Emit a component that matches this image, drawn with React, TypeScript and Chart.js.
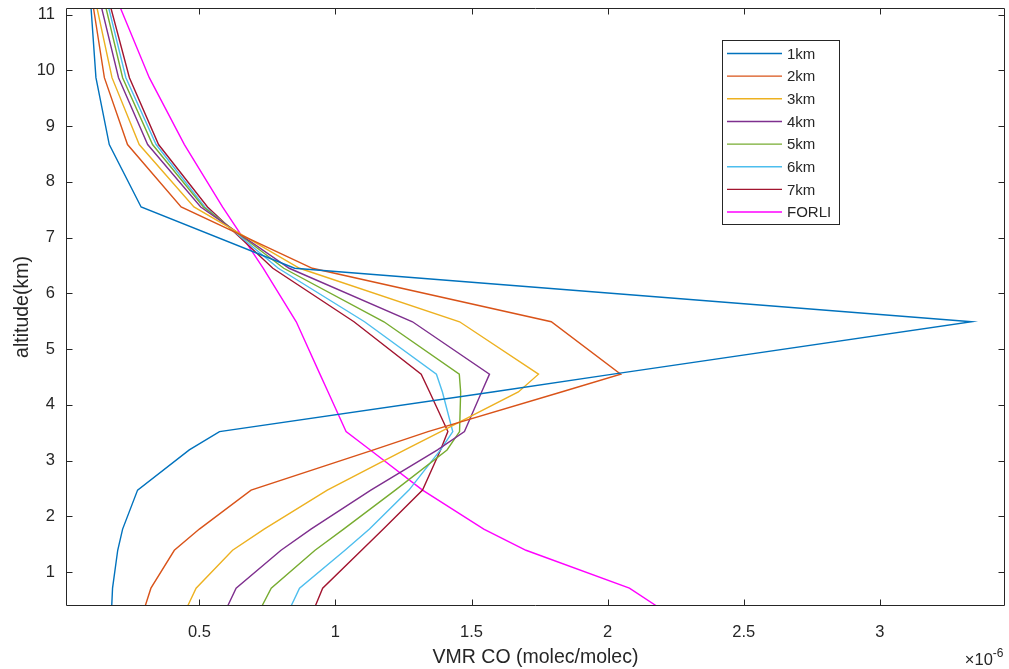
import { useEffect, useRef } from "react";
import { Chart, registerables } from "chart.js";

Chart.register(...registerables);

// Retrieval altitude levels (km)
const altitudeKm = [0.39, 0.71, 1.39, 1.77, 2.47, 3.19, 3.52, 4.23, 4.55, 5.49, 6.45, 7.55, 8.67, 9.87, 11.12];

// CO volume mixing ratio profiles, in units of 1e-6 molec/molec
const vmr1km = [0.178, 0.181, 0.2, 0.218, 0.273, 0.463, 0.574, 1.577, 2.02, 3.338, 0.85, 0.286, 0.169, 0.12, 0.102];
const vmr2km = [0.301, 0.322, 0.408, 0.5, 0.69, 1.14, 1.34, 1.83, 2.048, 1.793, 0.915, 0.433, 0.236, 0.151, 0.111];
const vmr3km = [0.457, 0.488, 0.622, 0.738, 0.97, 1.255, 1.387, 1.672, 1.746, 1.456, 0.868, 0.48, 0.279, 0.179, 0.124];
const vmr4km = [0.604, 0.635, 0.8, 0.91, 1.13, 1.375, 1.474, 1.537, 1.566, 1.283, 0.83, 0.505, 0.31, 0.203, 0.141];
const vmr5km = [0.73, 0.764, 0.925, 1.03, 1.22, 1.41, 1.456, 1.46, 1.455, 1.178, 0.81, 0.515, 0.328, 0.218, 0.157];
const vmr6km = [0.837, 0.868, 1.035, 1.125, 1.27, 1.386, 1.431, 1.393, 1.371, 1.107, 0.79, 0.52, 0.341, 0.23, 0.167];
const vmr7km = [0.926, 0.953, 1.096, 1.176, 1.32, 1.386, 1.413, 1.346, 1.315, 1.068, 0.77, 0.53, 0.35, 0.243, 0.175];
const vmrForli = [2.18, 2.08, 1.7, 1.545, 1.32, 1.128, 1.039, 0.973, 0.943, 0.856, 0.735, 0.585, 0.445, 0.316, 0.21];

const seriesLabels = ["1km", "2km", "3km", "4km", "5km", "6km", "7km", "FORLI"];
const seriesValues = [vmr1km, vmr2km, vmr3km, vmr4km, vmr5km, vmr6km, vmr7km, vmrForli];
const seriesColors = ["#0072BD", "#D95319", "#EDB120", "#7E2F8E", "#77AC30", "#4DBEEE", "#A2142F", "#FF00FF"];

const xTickValues = [0.5, 1, 1.5, 2, 2.5, 3];
const yTickValues = [1, 2, 3, 4, 5, 6, 7, 8, 9, 10, 11];

const FONT = "'Liberation Sans', Arial, Helvetica, sans-serif";
const INK = "#262626";

// Box around the axes, inward ticks on all four sides, exponent label and legend
const framePlugin = {
  id: "frame",
  afterDraw(chart: any) {
    const { ctx, chartArea: a, scales } = chart;
    const xs = scales.x;
    const ys = scales.y;
    const L = Math.round(a.left) + 0.5;
    const R = Math.round(a.right) - 0.5;
    const T = Math.round(a.top) + 0.5;
    const B = Math.round(a.bottom) - 0.5;
    const tick = 6;
    ctx.save();
    ctx.strokeStyle = INK;
    ctx.lineWidth = 1;
    ctx.beginPath();
    ctx.rect(L, T, R - L, B - T);
    xs.ticks.forEach((t: any) => {
      const px = Math.round(xs.getPixelForValue(t.value)) + 0.5;
      ctx.moveTo(px, B);
      ctx.lineTo(px, B - tick);
      ctx.moveTo(px, T);
      ctx.lineTo(px, T + tick);
    });
    ys.ticks.forEach((t: any) => {
      const py = Math.round(ys.getPixelForValue(t.value)) + 0.5;
      ctx.moveTo(L, py);
      ctx.lineTo(L + tick, py);
      ctx.moveTo(R, py);
      ctx.lineTo(R - tick, py);
    });
    ctx.stroke();

    // exponent of the x axis
    ctx.fillStyle = INK;
    ctx.textBaseline = "alphabetic";
    ctx.textAlign = "right";
    ctx.font = `12px ${FONT}`;
    const supW = ctx.measureText("-6").width;
    ctx.fillText("-6", R - 1, a.bottom + 51);
    ctx.font = `16.5px ${FONT}`;
    ctx.fillText("\u00d710", R - 1 - supW, a.bottom + 59);

    // legend
    const bx = 722.5;
    const by = 40.5;
    const bw = 117;
    const bh = 184;
    ctx.fillStyle = "#ffffff";
    ctx.fillRect(bx, by, bw, bh);
    ctx.strokeStyle = INK;
    ctx.strokeRect(bx, by, bw, bh);
    ctx.font = `15px ${FONT}`;
    ctx.textAlign = "left";
    ctx.textBaseline = "middle";
    chart.data.datasets.forEach((ds: any, i: number) => {
      const ry = 53.5 + i * 22.65;
      ctx.strokeStyle = ds.borderColor;
      ctx.lineWidth = 1.4;
      ctx.beginPath();
      ctx.moveTo(727, ry);
      ctx.lineTo(782, ry);
      ctx.stroke();
      ctx.fillStyle = INK;
      ctx.fillText(ds.label, 787, ry + 1);
    });
    ctx.restore();
  },
};

export default function App() {
  const canvasRef = useRef<HTMLCanvasElement | null>(null);

  useEffect(() => {
    if (!canvasRef.current) return;
    const datasets = seriesLabels.map((label, i) => ({
      label,
      data: altitudeKm.map((h, j) => ({ x: seriesValues[i][j], y: h })),
      borderColor: seriesColors[i],
      backgroundColor: seriesColors[i],
      borderWidth: 1.4,
      showLine: true,
      pointRadius: 0,
      pointHoverRadius: 0,
      fill: false,
    }));

    const chart = new Chart(canvasRef.current, {
      type: "scatter",
      data: { datasets },
      options: {
        responsive: false,
        animation: false,
        events: [],
        layout: { padding: { left: 0, top: 8, right: 4, bottom: 0 } },
        plugins: {
          legend: { display: false },
          tooltip: { enabled: false },
        },
        scales: {
          x: {
            type: "linear",
            min: 0.01,
            max: 3.46,
            grid: { display: false, drawTicks: false },
            border: { display: false },
            afterBuildTicks: (s: any) => {
              s.ticks = xTickValues.map((v) => ({ value: v }));
            },
            afterFit: (s: any) => {
              s.height = 63;
              s.paddingLeft = 0;
              s.paddingRight = 0;
            },
            ticks: {
              color: INK,
              font: { family: FONT, size: 16.5 },
              padding: 17,
              maxRotation: 0,
              autoSkip: false,
              callback: (v: any) => String(v),
            },
            title: {
              display: true,
              text: "VMR CO (molec/molec)",
              color: INK,
              font: { family: FONT, size: 19.5 },
              padding: { top: 0, bottom: 0 },
            },
          },
          y: {
            type: "linear",
            min: Math.min(...altitudeKm),
            max: Math.max(...altitudeKm),
            grid: { display: false, drawTicks: false },
            border: { display: false },
            afterBuildTicks: (s: any) => {
              s.ticks = yTickValues.map((v) => ({ value: v }));
            },
            afterFit: (s: any) => {
              s.width = 66;
              s.paddingTop = 0;
              s.paddingBottom = 0;
            },
            ticks: {
              color: INK,
              font: { family: FONT, size: 16.5 },
              padding: 11,
              autoSkip: false,
              callback: (v: any) => String(v),
            },
            title: {
              display: true,
              text: "altitude(km)",
              color: INK,
              font: { family: FONT, size: 19.5 },
              padding: { top: 11, bottom: 0 },
            },
          },
        },
      },
      plugins: [framePlugin],
    });
    return () => chart.destroy();
  }, []);

  return (
    <div style={{ position: "absolute", left: 0, top: 0, width: 1009, height: 669, background: "#fff" }}>
      <canvas ref={canvasRef} width={1009} height={669} />
    </div>
  );
}
